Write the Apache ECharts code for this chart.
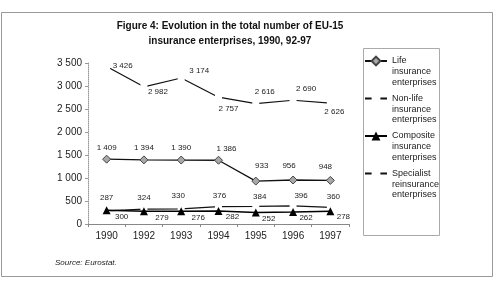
<!DOCTYPE html>
<html><head><meta charset="utf-8">
<script src="https://cdn.jsdelivr.net/npm/echarts@6/dist/echarts.min.js"></script>
<style>html,body{margin:0;padding:0;background:#fff}#c{width:496px;height:283px}</style>
</head><body><div id="c"></div>
<script>
// ---- data ----
const years = ['1990', '1992', '1993', '1994', '1995', '1996', '1997'];
const life = [1409, 1394, 1390, 1386, 933, 956, 948];
const nonLife = [3426, 2982, 3174, 2757, 2616, 2690, 2626];
const composite = [300, 279, 276, 282, 252, 262, 278];
const specialist = [287, 324, 330, 376, 384, 396, 360];
const seriesNames = [
  'Life\ninsurance\nenterprises',
  'Non-life\ninsurance\nenterprises',
  'Composite\ninsurance\nenterprises',
  'Specialist\nreinsurance\nenterprises'
];
const yMin = 0, yMax = 3500, yStep = 500;
const titleText = 'Figure 4: Evolution in the total number of EU-15\ninsurance enterprises, 1990, 92-97';
const sourceText = 'Source: Eurostat.';

// ---- label placement (style only) ----
const lifeOff = [[0,-11],[0,-12],[0,-12],[8,-11],[6,-15],[-4,-14],[-5,-14]];
const nonLifeOff = [[16,-1],[14,5],[18,-7],[10,12],[9,-12],[13,-11],[4,9]];
const compOff = [[15,7],[18,7],[17,6],[14,6],[13,6],[13,6],[13,6]];
const specOff = [[0,-13],[0,-11],[-3,-13],[1,-11],[4,-10],[8,-10],[3,-11]];

const fmt = v => String(v).replace(/\B(?=(\d{3})+(?!\d))/g, ' ');
const withOff = (vals, off) => vals.map((v, i) => ({ value: v, label: { offset: off[i] } }));
const baseLabel = { show: true, position: 'inside', fontSize: 8, color: '#222',
  fontFamily: 'Liberation Sans', formatter: p => fmt(p.value) };

const chart = echarts.init(document.getElementById('c'), null, { renderer: 'canvas' });
chart.setOption({
  animation: false,
  backgroundColor: '#fff',
  textStyle: { fontFamily: 'Liberation Sans' },
  title: {
    text: titleText, left: 230, top: 18.5, padding: 0, textAlign: 'center',
    textStyle: { fontSize: 10, fontWeight: 'bold', lineHeight: 15, color: '#111', fontFamily: 'Liberation Sans' }
  },
  legend: {
    orient: 'vertical', left: 364, top: 34.25, padding: 0,
    itemWidth: 22, itemHeight: 11, itemGap: -16,
    formatter: name => '\n\n' + name,
    textStyle: { fontSize: 9, lineHeight: 10.7, color: '#222', fontFamily: 'Liberation Sans' },
    data: seriesNames
  },
  grid: { left: 88, top: 63, width: 261, height: 161, containLabel: false, outerBoundsMode: 'none' },
  xAxis: {
    type: 'category', data: years, boundaryGap: true,
    axisLine: { lineStyle: { color: '#888', width: 1 } },
    axisTick: { show: true, length: 3, lineStyle: { color: '#888' } },
    axisLabel: { fontSize: 10, color: '#222', margin: 7 }
  },
  yAxis: {
    type: 'value', min: yMin, max: yMax, interval: yStep,
    axisLine: { show: true, lineStyle: { color: '#999', type: 'dotted' } },
    axisTick: { show: true, length: 3, lineStyle: { color: '#999' } },
    splitLine: { show: false },
    axisLabel: { fontSize: 10, color: '#222', margin: 6, formatter: v => fmt(v) }
  },
  series: [
    { name: seriesNames[0], type: 'line', data: withOff(life, lifeOff),
      symbol: 'diamond', symbolSize: 8, z: 3,
      itemStyle: { color: '#a8a8a8', borderColor: '#444', borderWidth: 1 },
      lineStyle: { color: '#111', width: 1.3 }, label: baseLabel },
    { name: seriesNames[1], type: 'line', data: withOff(nonLife, nonLifeOff),
      symbol: 'rect', symbolSize: 7, z: 2,
      itemStyle: { color: '#fff', borderWidth: 0 },
      lineStyle: { color: '#111', width: 1.2 }, label: baseLabel },
    { name: seriesNames[2], type: 'line', data: withOff(composite, compOff),
      symbol: 'triangle', symbolSize: 8, z: 4,
      itemStyle: { color: '#000', borderWidth: 0 },
      lineStyle: { color: '#000', width: 1.5 }, label: baseLabel },
    { name: seriesNames[3], type: 'line', data: withOff(specialist, specOff),
      symbol: 'rect', symbolSize: 7, z: 2,
      itemStyle: { color: '#fff', borderWidth: 0 },
      lineStyle: { color: '#111', width: 1.2 }, label: baseLabel }
  ],
  graphic: [
    { type: 'rect', shape: { x: 1.5, y: 12.5, width: 491, height: 264 }, silent: true, z: -10,
      style: { fill: 'none', stroke: '#999', lineWidth: 1 } },
    { type: 'rect', shape: { x: 363.5, y: 48.5, width: 76, height: 187 }, silent: true, z: -10,
      style: { fill: 'none', stroke: '#aaa', lineWidth: 1 } },
    { type: 'text', x: 55, y: 263, silent: true,
      style: { text: sourceText, font: 'italic 8px "Liberation Sans"', fill: '#222', textVerticalAlign: 'middle' } }
  ]
});
</script></body></html>
